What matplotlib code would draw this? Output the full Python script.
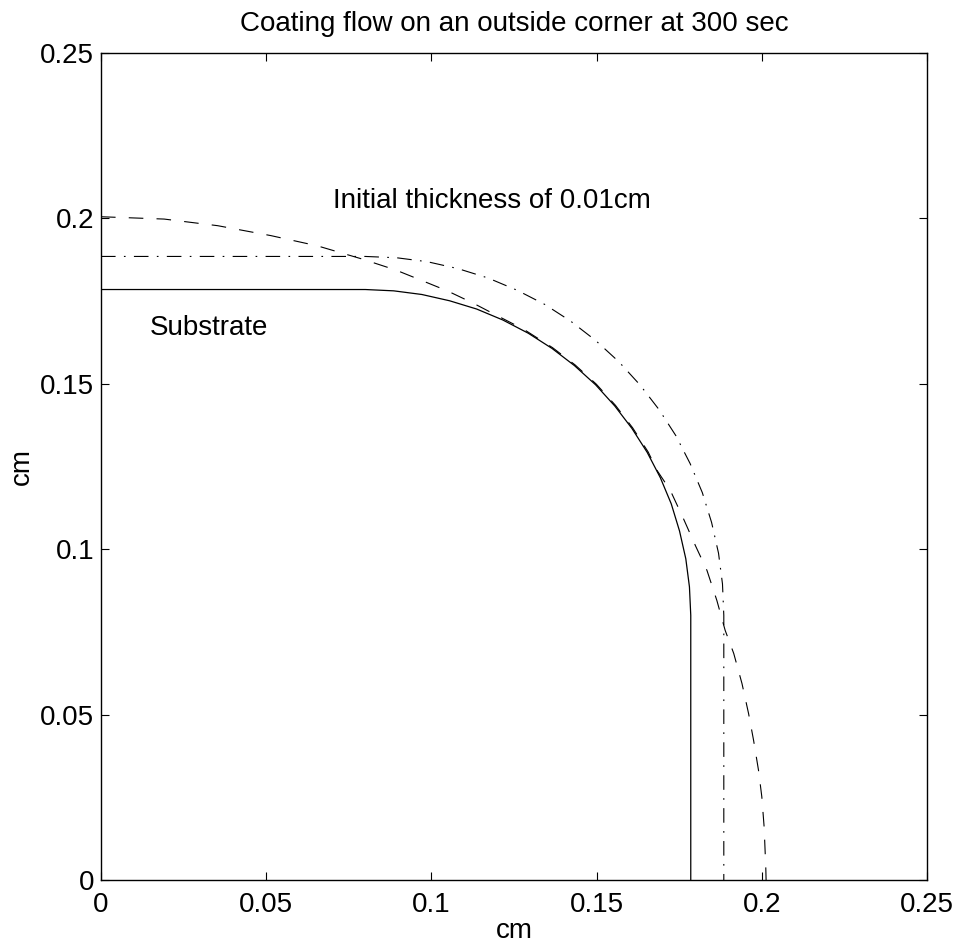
import matplotlib
matplotlib.use("Agg")
import matplotlib.pyplot as plt

plt.rcParams['font.family'] = ['Liberation Sans', 'DejaVu Sans']
plt.rcParams['lines.scale_dashes'] = False

# Substrate profile (solid)
substrate_x = [0.0000, 0.0800, 0.0886, 0.0971, 0.1055, 0.1137, 0.1216, 0.1293,
               0.1365, 0.1433, 0.1497, 0.1555, 0.1607, 0.1653, 0.1693, 0.1726,
               0.1751, 0.1770, 0.1781, 0.1785, 0.1785]
substrate_y = [0.1785, 0.1785, 0.1781, 0.1770, 0.1751, 0.1726, 0.1693, 0.1653,
               0.1607, 0.1555, 0.1497, 0.1433, 0.1365, 0.1293, 0.1216, 0.1137,
               0.1055, 0.0971, 0.0886, 0.0800, 0.0000]

# Initial coating surface (dash-dot)
initial_x = [0.0000, 0.0800, 0.0895, 0.0988, 0.1081, 0.1171, 0.1259, 0.1343,
             0.1422, 0.1497, 0.1567, 0.1631, 0.1689, 0.1740, 0.1783, 0.1820,
             0.1848, 0.1869, 0.1881, 0.1885, 0.1885]
initial_y = [0.1885, 0.1885, 0.1881, 0.1869, 0.1848, 0.1820, 0.1783, 0.1740,
             0.1689, 0.1631, 0.1567, 0.1497, 0.1422, 0.1343, 0.1259, 0.1171,
             0.1081, 0.0988, 0.0895, 0.0800, 0.0000]

# Coating surface at 300 sec (dashed)
final_x = [0.0000, 0.0191, 0.0353, 0.0514, 0.0655, 0.0791, 0.0892, 0.0969,
           0.1048, 0.1126, 0.1199, 0.1279, 0.1367, 0.1435, 0.1499, 0.1557,
           0.1609, 0.1656, 0.1683, 0.1723, 0.1763, 0.1799, 0.1834, 0.1864,
           0.1889, 0.1915, 0.1940, 0.1960, 0.1975, 0.1990, 0.2000, 0.2007,
           0.2012, 0.2013]
final_y = [0.2005, 0.1998, 0.1978, 0.1948, 0.1917, 0.1877, 0.1844, 0.1813,
           0.1781, 0.1744, 0.1706, 0.1665, 0.1609, 0.1557, 0.1499, 0.1435,
           0.1367, 0.1294, 0.1238, 0.1178, 0.1092, 0.1011, 0.0936, 0.0845,
           0.0755, 0.0685, 0.0594, 0.0503, 0.0423, 0.0332, 0.0252, 0.0161,
           0.0040, 0.0000]

ticks = [0, 0.05, 0.1, 0.15, 0.2, 0.25]
tick_labels = ["0", "0.05", "0.1", "0.15", "0.2", "0.25"]

FS = 20
fig = plt.figure(figsize=(9.61, 9.49), dpi=100)
ax = fig.add_axes([101/961, 1 - 880/949, 826/961, 827/949])

ax.plot(substrate_x, substrate_y, color='black', lw=0.9, ls='-')
ax.plot(initial_x, initial_y, color='black', lw=0.8, dashes=(10.5, 6.0, 1.2, 6.0))
ax.plot(final_x, final_y, color='black', lw=0.8, dashes=(10.5, 9.5))

ax.set_xlim(0, 0.25)
ax.set_ylim(0, 0.25)
ax.set_xticks(ticks)
ax.set_xticklabels(tick_labels)
ax.set_yticks(ticks)
ax.set_yticklabels(tick_labels)
ax.tick_params(direction='in', length=6, width=0.8, top=True, right=True,
               labelsize=FS, color='black')
ax.tick_params(axis='x', pad=9)
ax.tick_params(axis='y', pad=5)
for s in ax.spines.values():
    s.set_linewidth(1.0)

ax.set_title("Coating flow on an outside corner at 300 sec", fontsize=FS, pad=16)
ax.set_xlabel("cm", fontsize=FS, labelpad=0)
ax.set_ylabel("cm", fontsize=FS, labelpad=4)

ax.text(0.0702, 0.2031, "Initial thickness of 0.01cm", fontsize=FS,
        ha='left', va='baseline')
ax.text(0.0148, 0.1648, "Substrate", fontsize=FS, ha='left', va='baseline')

fig.savefig("out.png", dpi=100)
